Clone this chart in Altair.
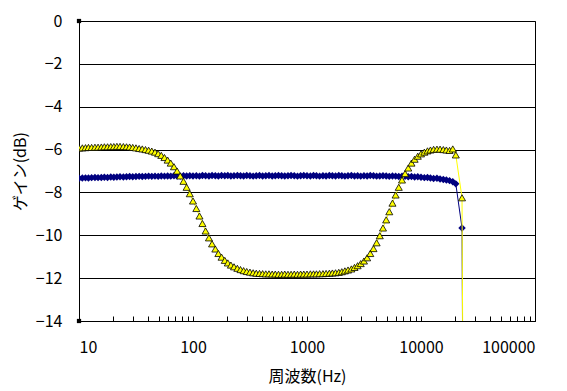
import altair as alt
import pandas as pd

freq = [
    10, 10.7, 11.4, 12.1, 12.9, 13.8, 14.7, 15.7, 16.7, 17.8, 19.0, 20.2, 21.5, 22.9, 24.5, 26.1, 27.8, 29.6,
    31.6, 33.7, 35.9, 38.3, 40.8, 43.5, 46.4, 49.5, 52.7, 56.2, 59.9, 63.8, 68.1, 72.5, 77.3, 82.5, 87.9, 93.7,
    100, 107, 114, 121, 129, 138, 147, 157, 167, 178, 190, 202, 215, 229, 245, 261, 278, 296,
    316, 337, 359, 383, 408, 435, 464, 495, 527, 562, 599, 638, 681, 725, 773, 825, 879, 937,
    1000, 1070, 1140, 1210, 1290, 1380, 1470, 1570, 1670, 1780, 1900, 2020, 2150, 2290, 2450, 2610, 2780, 2960,
    3160, 3370, 3590, 3830, 4080, 4350, 4640, 4950, 5270, 5620, 5990, 6380, 6810, 7250, 7730, 8250, 8790, 9370,
    10000, 10700, 11400, 12100, 12900, 13800, 14700, 15700, 16700, 17800, 19000, 20200, 22900, 24500,
]

gain_yellow = [
    -5.93, -5.92, -5.91, -5.90, -5.90, -5.89, -5.89, -5.88, -5.87, -5.87, -5.86, -5.86, -5.85, -5.85, -5.86, -5.87, -5.88, -5.90,
    -5.92, -5.95, -5.97, -6.00, -6.03, -6.07, -6.12, -6.19, -6.27, -6.37, -6.49, -6.63, -6.80, -7.00, -7.23, -7.48, -7.76, -8.06,
    -8.40, -8.75, -9.10, -9.45, -9.80, -10.12, -10.40, -10.64, -10.85, -11.02, -11.17, -11.29, -11.39, -11.47, -11.54, -11.60, -11.65, -11.69,
    -11.72, -11.75, -11.77, -11.78, -11.79, -11.80, -11.80, -11.81, -11.81, -11.82, -11.82, -11.81, -11.82, -11.82, -11.81, -11.82, -11.81, -11.81,
    -11.81, -11.80, -11.80, -11.80, -11.79, -11.79, -11.78, -11.77, -11.76, -11.75, -11.73, -11.70, -11.66, -11.62, -11.57, -11.50, -11.42, -11.32,
    -11.20, -11.05, -10.85, -10.62, -10.35, -10.02, -9.66, -9.28, -8.90, -8.50, -8.12, -7.76, -7.42, -7.12, -6.86, -6.63, -6.45, -6.31,
    -6.20, -6.12, -6.06, -6.02, -5.99, -5.98, -5.98, -6.00, -6.02, -6.04, -5.97, -6.25, -8.25, -40.0,
]

gain_blue = [
    -7.34, -7.33, -7.32, -7.33, -7.31, -7.30, -7.31, -7.30, -7.29, -7.30, -7.28, -7.29, -7.28, -7.27, -7.28, -7.27, -7.26, -7.27,
    -7.26, -7.25, -7.26, -7.25, -7.24, -7.25, -7.24, -7.25, -7.23, -7.24, -7.23, -7.24, -7.22, -7.23, -7.24, -7.22, -7.23, -7.22,
    -7.23, -7.22, -7.24, -7.21, -7.22, -7.23, -7.21, -7.22, -7.23, -7.21, -7.22, -7.21, -7.23, -7.22, -7.21, -7.22, -7.23, -7.21,
    -7.22, -7.24, -7.22, -7.21, -7.23, -7.22, -7.21, -7.23, -7.22, -7.21, -7.22, -7.23, -7.22, -7.21, -7.22, -7.24, -7.22, -7.21,
    -7.22, -7.23, -7.21, -7.22, -7.24, -7.22, -7.23, -7.21, -7.22, -7.23, -7.21, -7.22, -7.24, -7.22, -7.21, -7.23, -7.22, -7.24,
    -7.22, -7.23, -7.21, -7.22, -7.24, -7.23, -7.22, -7.23, -7.25, -7.23, -7.24, -7.26, -7.24, -7.25, -7.27, -7.26, -7.28, -7.27,
    -7.29, -7.31, -7.30, -7.33, -7.35, -7.34, -7.37, -7.40, -7.42, -7.45, -7.50, -7.60, -9.66, -40.0,
]

corner_freq = [10, 10]
corner_gain = [0, -14]

x_major = [10, 100, 1000, 10000, 100000]
x_minor = [20, 30, 40, 50, 60, 70, 80, 90,
           200, 300, 400, 500, 600, 700, 800, 900,
           2000, 3000, 4000, 5000, 6000, 7000, 8000, 9000,
           20000, 30000, 40000, 50000, 60000, 70000, 80000, 90000]
y_ticks = [-14, -12, -10, -8, -6, -4, -2, 0]

FONT = "Noto Sans CJK JP"

df_blue = pd.DataFrame({"f": freq, "g": gain_blue})
df_yellow = pd.DataFrame({"f": freq, "g": gain_yellow})
df_corner = pd.DataFrame({"f": corner_freq, "g": corner_gain})

xscale = alt.Scale(type="log", domain=[10, 100000], nice=False)
yscale = alt.Scale(domain=[-14, 0], nice=False, zero=False)

x_main_axis = alt.Axis(
    values=x_major, format="d", ticks=False, grid=False,
    domainColor="black", domainWidth=1,
    labelFont=FONT, labelFontSize=16, labelColor="black", labelPadding=18,
    title="周波数(Hz)", titleFont=FONT, titleFontSize=16, titleFontWeight="normal",
    titleColor="black", titleY=55, titleBaseline="middle",
)
x_minor_axis = alt.Axis(
    orient="bottom", values=x_minor + x_major, labels=False, domain=False,
    ticks=True, tickSize=5, tickColor="black", tickWidth=1, offset=-5,
    grid=False, title=None,
)
y_axis = alt.Axis(
    values=y_ticks, ticks=False, grid=True, gridColor="black", gridWidth=1, gridOpacity=1,
    domainColor="black", domainWidth=1,
    labelFont=FONT, labelFontSize=16, labelColor="black", labelPadding=17,
    title="ゲイン(dB)", titleFont=FONT, titleFontSize=16, titleFontWeight="normal",
    titleColor="black", titleX=-59, titleBaseline="middle",
)

Y = alt.Y("g:Q", scale=yscale, axis=y_axis)

blue_line = alt.Chart(df_blue).mark_line(color="#000080", strokeWidth=1, clip=True).encode(
    x=alt.X("f:Q", scale=xscale, axis=x_main_axis),
    y=Y,
)
blue_pts = alt.Chart(df_blue).mark_point(
    shape="diamond", filled=True, color="#000080", size=55, opacity=1, clip=True
).encode(
    x=alt.X("f:Q", scale=xscale, axis=None),
    y=Y,
)
yellow_line = alt.Chart(df_yellow).mark_line(color="#FFFF00", strokeWidth=1, clip=True).encode(
    x=alt.X("f:Q", scale=xscale, axis=None),
    y=Y,
)
yellow_pts = alt.Chart(df_yellow).mark_point(
    shape="triangle-up", filled=True, fill="#FFFF00", stroke="black", strokeWidth=0.8,
    size=50, opacity=1, clip=True
).encode(
    x=alt.X("f:Q", scale=xscale, axis=None),
    y=Y,
)
corners = alt.Chart(df_corner).mark_point(
    shape="square", filled=True, color="black", size=18, opacity=1
).encode(
    x=alt.X("f:Q", scale=xscale, axis=x_minor_axis),
    y=Y,
)

chart = alt.layer(
    blue_line, blue_pts, yellow_line, yellow_pts, corners
).resolve_axis(x="independent", y="shared").properties(
    width=456, height=300,
    autosize=alt.AutoSizeParams(type="none"),
    padding={"left": 71, "top": 13, "right": 24, "bottom": 68},
    background="white",
).configure_view(stroke="black", strokeWidth=1)

chart.save("out.html", embed_options={"renderer": "svg", "actions": False})
